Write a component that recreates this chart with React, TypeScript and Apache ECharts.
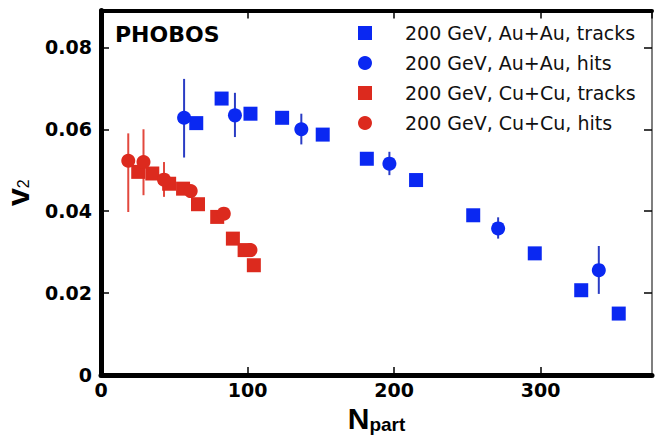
import React, { useEffect, useRef } from 'react';
import * as echarts from 'echarts';

// Au+Au tracks
const auAuTracksN = [65, 82.3, 102, 123.6, 151.3, 181.4, 215, 254, 296, 327.7, 353.3];
const auAuTracksV = [0.0615, 0.0675, 0.0638, 0.0628, 0.0587, 0.0528, 0.0476, 0.039, 0.0297, 0.0207, 0.015];

// Au+Au hits
const auAuHitsN = [56.7, 91.4, 136.7, 196.8, 271, 339.7];
const auAuHitsV = [0.0628, 0.0634, 0.06, 0.0516, 0.0358, 0.0256];
const auAuHitsLow = [0.0531, 0.0581, 0.0563, 0.0488, 0.0333, 0.0198];
const auAuHitsHigh = [0.0723, 0.0689, 0.0638, 0.0545, 0.0385, 0.0315];

// Cu+Cu tracks
const cuCuTracksN = [25.4, 35, 46.5, 56, 66.2, 79.3, 90, 98, 104.3];
const cuCuTracksV = [0.0496, 0.0492, 0.0467, 0.0455, 0.0417, 0.0386, 0.0333, 0.0305, 0.0268];

// Cu+Cu hits
const cuCuHitsN = [18.6, 29, 43, 61.2, 83.8, 102];
const cuCuHitsV = [0.0523, 0.052, 0.0477, 0.0449, 0.0394, 0.0305];
const cuCuHitsLow = [0.0398, 0.0439, 0.0435, 0.0435, 0.0388, 0.03];
const cuCuHitsHigh = [0.059, 0.06, 0.052, 0.0462, 0.04, 0.031];

const legendNames = [
  '200 GeV, Au+Au, tracks',
  '200 GeV, Au+Au, hits',
  '200 GeV, Cu+Cu, tracks',
  '200 GeV, Cu+Cu, hits',
];

const BLUE = '#0a28f2';
const RED = '#dc2a1e';
const BLUE_ERR = '#2a3cc4';
const RED_ERR = '#e2483e';

const pairs = (xs: number[], ys: number[]) => xs.map((x, i) => [x, ys[i]]);
const triples = (xs: number[], lo: number[], hi: number[]) => xs.map((x, i) => [x, lo[i], hi[i]]);

const errSeries = (data: number[][], color: string) => ({
  type: 'custom',
  name: 'err',
  data,
  encode: { x: 0, y: [1, 2] },
  renderItem: (_p: any, api: any) => {
    const x = api.value(0);
    const p1 = api.coord([x, api.value(1)]);
    const p2 = api.coord([x, api.value(2)]);
    return {
      type: 'line',
      shape: { x1: p1[0], y1: p1[1], x2: p2[0], y2: p2[1] },
      style: { stroke: color, lineWidth: 2 },
    };
  },
  silent: true,
});

export default function App() {
  const ref = useRef<HTMLDivElement>(null);
  useEffect(() => {
    document.body.style.margin = '0';
    const chart = echarts.init(ref.current!, null, { renderer: 'svg' });
    const tickLabelStyle = {
      fontFamily: 'DejaVu Sans',
      fontWeight: 'bold',
      fontSize: 19,
      color: '#000',
    };
    const option: any = {
      animation: false,
      backgroundColor: '#fff',
      title: {
        text: 'PHOBOS',
        left: 115,
        top: 23,
        padding: 0,
        textStyle: { fontFamily: 'DejaVu Sans', fontWeight: 'bold', fontSize: 22, color: '#000' },
      },
      legend: {
        orient: 'vertical',
        left: 358,
        top: 23,
        padding: 0,
        itemWidth: 14,
        itemHeight: 14,
        itemGap: 10,
        selectedMode: false,
        data: legendNames,
        textStyle: {
          fontFamily: 'DejaVu Sans',
          fontSize: 19,
          color: '#111',
          lineHeight: 20,
          padding: [0, 0, 0, 28],
        },
      },
      grid: { left: 101, right: 5, top: 10.5, bottom: 71, containLabel: false, outerBoundsMode: 'none' },
      xAxis: [
        {
          type: 'value',
          min: 0,
          max: 376,
          interval: 100,
          position: 'bottom',
          axisLine: { show: true, onZero: false, lineStyle: { color: '#000', width: 5 } },
          axisTick: { show: true, inside: true, length: 8, lineStyle: { color: '#000', width: 1.5 } },
          axisLabel: { ...tickLabelStyle, margin: 5, showMaxLabel: false },
          splitLine: { show: false },
          name: '{n|N}{s|part}',
          nameLocation: 'middle',
          nameGap: 26,
          nameTextStyle: {
            rich: {
              n: { fontFamily: 'Liberation Sans', fontWeight: 'bold', fontSize: 30, lineHeight: 30, color: '#000' },
              s: { fontFamily: 'Liberation Sans', fontWeight: 'bold', fontSize: 19, lineHeight: 12, verticalAlign: 'bottom', color: '#000' },
            },
          },
        },
        {
          type: 'value',
          min: 0,
          max: 376,
          interval: 100,
          position: 'top',
          axisLine: { show: true, onZero: false, lineStyle: { color: '#000', width: 4 } },
          axisTick: { show: true, inside: true, length: 8, lineStyle: { color: '#000', width: 1.5 } },
          axisLabel: { show: false },
          splitLine: { show: false },
        },
      ],
      yAxis: [
        {
          type: 'value',
          min: 0,
          max: 0.089,
          interval: 0.02,
          position: 'left',
          axisLine: { show: true, onZero: false, lineStyle: { color: '#000', width: 5 } },
          axisTick: { show: true, inside: true, length: 8, lineStyle: { color: '#000', width: 1.5 } },
          axisLabel: {
            ...tickLabelStyle,
            margin: 9,
            showMaxLabel: false,
            formatter: (v: number) => (v === 0 ? '0' : v.toFixed(2)),
          },
          splitLine: { show: false },
          name: '{v|v}{s|2}',
          nameLocation: 'middle',
          nameRotate: 90,
          nameGap: 70,
          nameTextStyle: {
            rich: {
              v: { fontFamily: 'Liberation Sans', fontWeight: 'bold', fontSize: 32, lineHeight: 26, color: '#000' },
              s: { fontFamily: 'Liberation Sans', fontSize: 16, lineHeight: 8, verticalAlign: 'bottom', color: '#000' },
            },
          },
        },
        {
          type: 'value',
          min: 0,
          max: 0.089,
          interval: 0.02,
          position: 'right',
          axisLine: { show: true, onZero: false, lineStyle: { color: '#555', width: 1.5 } },
          axisTick: { show: true, inside: true, length: 8, lineStyle: { color: '#000', width: 1.5 } },
          axisLabel: { show: false },
          splitLine: { show: false },
        },
      ],
      series: [
        {
          type: 'scatter',
          name: legendNames[2],
          symbol: 'rect',
          symbolSize: 14,
          itemStyle: { color: RED, opacity: 1 },
          data: pairs(cuCuTracksN, cuCuTracksV),
        },
        errSeries(triples(cuCuHitsN, cuCuHitsLow, cuCuHitsHigh), RED_ERR),
        {
          type: 'scatter',
          name: legendNames[3],
          symbol: 'circle',
          symbolSize: 14,
          itemStyle: { color: RED, opacity: 1 },
          data: pairs(cuCuHitsN, cuCuHitsV),
        },
        {
          type: 'scatter',
          name: legendNames[0],
          symbol: 'rect',
          symbolSize: 14,
          itemStyle: { color: BLUE, opacity: 1 },
          data: pairs(auAuTracksN, auAuTracksV),
        },
        errSeries(triples(auAuHitsN, auAuHitsLow, auAuHitsHigh), BLUE_ERR),
        {
          type: 'scatter',
          name: legendNames[1],
          symbol: 'circle',
          symbolSize: 14,
          itemStyle: { color: BLUE, opacity: 1 },
          data: pairs(auAuHitsN, auAuHitsV),
        },
      ],
    };
    chart.setOption(option);
    return () => chart.dispose();
  }, []);
  return <div ref={ref} style={{ width: 657, height: 446 }} />;
}
